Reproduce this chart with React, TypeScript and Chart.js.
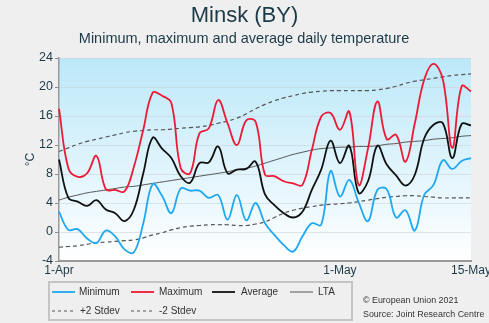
import React, { useEffect, useRef } from 'react';
import { Chart, registerables } from 'chart.js';

Chart.register(...registerables);

const categories = [
  '1-Apr', '2-Apr', '3-Apr', '4-Apr', '5-Apr', '6-Apr', '7-Apr', '8-Apr', '9-Apr', '10-Apr',
  '11-Apr', '12-Apr', '13-Apr', '14-Apr', '15-Apr', '16-Apr', '17-Apr', '18-Apr', '19-Apr', '20-Apr',
  '21-Apr', '22-Apr', '23-Apr', '24-Apr', '25-Apr', '26-Apr', '27-Apr', '28-Apr', '29-Apr', '30-Apr',
  '1-May', '2-May', '3-May', '4-May', '5-May', '6-May', '7-May', '8-May', '9-May', '10-May',
  '11-May', '12-May', '13-May', '14-May', '15-May',
];

const xTickLabels = ['1-Apr', '1-May', '15-May'];

const minimum = [
  2.8, 0.3, 0.4, -0.9, -1.5, 0.2, -0.6, -2.4, -2.8, 1.2,
  6.6, 5.0, 2.6, 6.0, 5.7, 5.7, 4.7, 5.1, 1.7, 5.1,
  1.6, 4.0, 1.2, -0.4, -1.8, -2.7, -0.6, 1.2, 1.0, 8.4,
  4.9, 7.2, 4.1, 1.5, 5.8, 5.9, 2.0, 3.0, 0.2, 5.1,
  6.5, 9.9, 8.7, 9.8, 10.2,
];

const maximum = [
  17.0, 8.8, 7.6, 8.1, 10.5, 5.9, 5.8, 5.6, 9.0, 14.1,
  19.2, 18.8, 17.8, 8.8, 8.1, 13.6, 14.3, 18.2, 15.0, 12.0,
  15.4, 15.2, 7.9, 7.7, 7.0, 6.7, 6.5, 11.3, 15.9, 16.4,
  14.1, 16.6, 6.5, 11.5, 18.0, 12.8, 13.4, 9.7, 15.0, 21.0,
  23.2, 21.0, 11.6, 20.1, 19.4,
];

const average = [
  10.0, 4.7, 4.2, 3.6, 4.4, 3.1, 2.6, 1.5, 3.1, 8.1,
  13.0, 11.5, 10.2, 7.7, 6.8, 9.5, 9.6, 11.8, 8.1, 8.6,
  8.7, 9.7, 5.2, 3.7, 2.6, 2.0, 2.8, 5.8, 8.6, 12.6,
  9.5, 11.9, 5.4, 7.0, 11.9, 9.3, 7.8, 6.4, 7.9, 12.9,
  14.8, 15.0, 10.2, 14.9, 14.7,
];

const lta = [
  4.4, 4.8, 5.1, 5.4, 5.6, 5.8, 6.0, 6.2, 6.3, 6.5,
  6.7, 6.9, 7.1, 7.3, 7.5, 7.7, 7.9, 8.1, 8.3, 8.6,
  8.8, 9.1, 9.5, 9.9, 10.3, 10.7, 11.0, 11.3, 11.5, 11.6,
  11.7, 11.7, 11.8, 11.8, 11.9, 12.1, 12.2, 12.4, 12.5, 12.6,
  12.8, 12.9, 13.0, 13.2, 13.3,
];

const plus2Stdev = [
  11.1, 11.6, 12.1, 12.5, 12.8, 13.1, 13.4, 13.7, 13.9, 14.0,
  14.1, 14.1, 14.2, 14.3, 14.4, 14.5, 14.7, 15.0, 15.3, 15.7,
  16.3, 17.0, 17.6, 18.1, 18.5, 18.8, 19.1, 19.3, 19.4, 19.5,
  19.5, 19.5, 19.5, 19.5, 19.6, 19.8, 20.1, 20.5, 20.8, 21.0,
  21.2, 21.4, 21.6, 21.7, 21.8,
];

const minus2Stdev = [
  -2.1, -2.0, -1.9, -1.7, -1.5, -1.4, -1.3, -1.2, -1.1, -0.8,
  -0.4, -0.1, 0.3, 0.6, 0.8, 0.9, 1.0, 1.0, 1.0, 0.9,
  0.9, 1.1, 1.4, 2.0, 2.6, 3.0, 3.3, 3.5, 3.7, 3.8,
  3.9, 4.0, 4.2, 4.4, 4.6, 4.8, 4.9, 5.0, 5.0, 4.9,
  4.8, 4.7, 4.7, 4.7, 4.7,
];

const seriesNames = ['Minimum', 'Maximum', 'Average', 'LTA', '+2 Stdev', '-2 Stdev'];
const yMin = -4;
const yMax = 24;

const FONT = "'Liberation Sans', Arial, Helvetica, sans-serif";
const TEXT = '#1b3a47';

const bgPlugin = {
  id: 'plotBg',
  beforeDraw(chart: any) {
    const { ctx, chartArea } = chart;
    if (!chartArea) return;
    const g = ctx.createLinearGradient(0, chartArea.top, 0, chartArea.bottom);
    g.addColorStop(0, '#bce8f9');
    g.addColorStop(1, '#ffffff');
    ctx.save();
    ctx.fillStyle = g;
    ctx.fillRect(chartArea.left, chartArea.top, chartArea.right - chartArea.left, chartArea.bottom - chartArea.top);
    ctx.restore();
  },
};

const legendItems = [
  { label: seriesNames[0], color: '#1ea8f0', dash: '', x: 52, tx: 79, row: 0, w: 1.8 },
  { label: seriesNames[1], color: '#ec1a35', dash: '', x: 131, tx: 159, row: 0, w: 1.8 },
  { label: seriesNames[2], color: '#111111', dash: '', x: 212, tx: 241, row: 0, w: 1.8 },
  { label: seriesNames[3], color: '#555555', dash: '', x: 290, tx: 318, row: 0, w: 1 },
  { label: seriesNames[4], color: '#555555', dash: '3,3', x: 52, tx: 80, row: 1, w: 1.2 },
  { label: seriesNames[5], color: '#555555', dash: '3,3', x: 131, tx: 159, row: 1, w: 1.2 },
];

export default function App() {
  const canvasRef = useRef<HTMLCanvasElement | null>(null);

  useEffect(() => {
    document.body.style.margin = '0';
    const canvas = canvasRef.current;
    if (!canvas) return;
    const line = (label: string, data: number[], color: string, width: number, dash: number[] = []) => ({
      label,
      data,
      borderColor: color,
      backgroundColor: color,
      borderWidth: width,
      borderDash: dash,
      pointRadius: 0,
      pointHoverRadius: 0,
      tension: 0.4,
      fill: false,
    });
    const chart = new Chart(canvas, {
      type: 'line',
      data: {
        labels: categories,
        datasets: [
          line(seriesNames[0], minimum, '#1ea8f0', 1.8),
          line(seriesNames[1], maximum, '#ec1a35', 1.8),
          line(seriesNames[2], average, '#111111', 1.8),
          line(seriesNames[3], lta, '#555555', 1),
          line(seriesNames[4], plus2Stdev, '#555555', 1.2, [4, 3]),
          line(seriesNames[5], minus2Stdev, '#555555', 1.2, [4, 3]),
        ],
      },
      options: {
        animation: false,
        responsive: false,
        events: [],
        layout: { padding: { top: 58, right: 18, bottom: 0, left: 0 } },
        plugins: {
          legend: { display: false },
          title: { display: false },
          tooltip: { enabled: false },
        },
        scales: {
          x: {
            type: 'category',
            offset: false,
            afterBuildTicks: (scale: any) => {
              scale.ticks = scale.ticks.filter((t: any) => xTickLabels.includes(categories[t.value]));
            },
            afterFit: (scale: any) => {
              scale.height = 62;
              scale.paddingLeft = 0;
              scale.paddingRight = 0;
            },
            ticks: {
              autoSkip: false,
              maxRotation: 0,
              minRotation: 0,
              padding: 2,
              color: TEXT,
              font: { family: FONT, size: 12 },
              callback: (v: any) => categories[v],
            },
            grid: { display: false, drawTicks: false },
            border: { display: true, color: '#999999', width: 2 },
          },
          y: {
            min: yMin,
            max: yMax,
            afterFit: (scale: any) => {
              scale.width = 59;
              scale.paddingTop = 0;
              scale.paddingBottom = 0;
            },
            ticks: {
              stepSize: 2,
              padding: 2,
              color: TEXT,
              font: { family: FONT, size: 12.5 },
              callback: (v: any) => (Number(v) % 4 === 0 ? String(v) : ''),
            },
            grid: {
              drawTicks: true,
              tickLength: 4,
              tickColor: '#8c8c8c',
              color: (ctx: any) =>
                ctx.tick && ctx.tick.value % 4 === 0 && ctx.tick.value !== yMin ? 'rgba(200,210,215,0.55)' : 'rgba(0,0,0,0)',
              lineWidth: 1,
            },
            border: { display: true, color: '#999999', width: 1.5 },
            title: {
              display: true,
              text: '°C',
              color: TEXT,
              font: { family: FONT, size: 12 },
              padding: { top: 23, bottom: 0 },
            },
          },
        },
      },
      plugins: [bgPlugin],
    } as any);
    return () => chart.destroy();
  }, []);

  return (
    <div
      style={{
        position: 'relative',
        width: 489,
        height: 323,
        background: '#efefef',
        overflow: 'hidden',
        fontFamily: FONT,
      }}
    >
      <canvas ref={canvasRef} width={489} height={323} style={{ position: 'absolute', left: 0, top: 0 }} />
      <div
        style={{
          position: 'absolute',
          left: 0,
          width: 489,
          top: 2,
          textAlign: 'center',
          fontSize: 22,
          lineHeight: '26px',
          color: TEXT,
        }}
      >
        Minsk (BY)
      </div>
      <div
        style={{
          position: 'absolute',
          left: 0,
          width: 488,
          top: 30,
          textAlign: 'center',
          fontSize: 14.5,
          lineHeight: '17px',
          color: TEXT,
        }}
      >
        Minimum, maximum and average daily temperature
      </div>
      <div
        style={{
          position: 'absolute',
          left: 48,
          top: 281,
          width: 305,
          height: 40,
          boxSizing: 'border-box',
          border: '2px solid #c4c4c4',
        }}
      />
      {legendItems.map((it) => {
        const cy = it.row === 0 ? 292 : 311;
        return (
          <React.Fragment key={it.label}>
            <svg
              width={23}
              height={6}
              style={{ position: 'absolute', left: it.x, top: cy - 3 }}
            >
              <line
                x1={0}
                y1={3}
                x2={23}
                y2={3}
                stroke={it.color}
                strokeWidth={it.w}
                strokeDasharray={it.dash || undefined}
              />
            </svg>
            <div
              style={{
                position: 'absolute',
                left: it.tx,
                top: cy - 6,
                fontSize: 10,
                lineHeight: '12px',
                color: '#333333',
                whiteSpace: 'nowrap',
              }}
            >
              {it.label}
            </div>
          </React.Fragment>
        );
      })}
      <div
        style={{
          position: 'absolute',
          left: 363,
          top: 293,
          fontSize: 8.9,
          lineHeight: '14px',
          color: '#333333',
          whiteSpace: 'nowrap',
        }}
      >
        <div>© European Union 2021</div>
        <div>Source: Joint Research Centre</div>
      </div>
    </div>
  );
}
